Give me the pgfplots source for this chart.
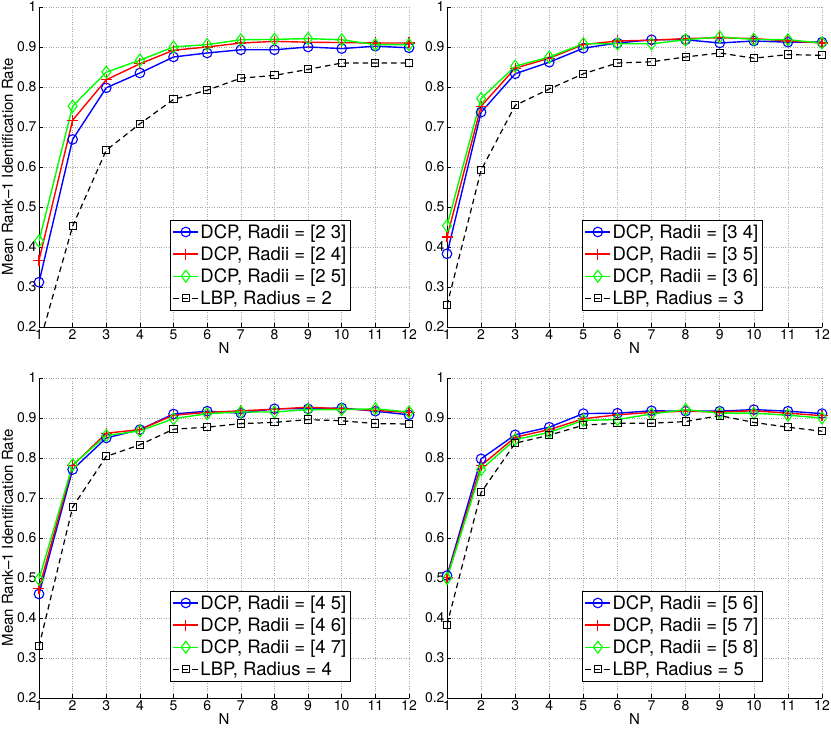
\documentclass[border=0pt]{standalone}
\usepackage{fontspec}
\setmainfont{TeX Gyre Heros}
\usepackage{pgfplots}
\pgfplotsset{compat=1.18}

\definecolor{mblue}{rgb}{0,0,1}
\definecolor{mred}{rgb}{1,0,0}
\definecolor{mgreen}{rgb}{0,1,0}

\pgfplotsset{
  panel/.style={
    scale only axis,
    height=320pt,
    xmin=1, xmax=12, ymin=0.2, ymax=1,
    xtick={1,...,12},
    ytick={0.2,0.3,0.4,0.5,0.6,0.7,0.8,0.9,1},
    yticklabels={0.2,0.3,0.4,0.5,0.6,0.7,0.8,0.9,1},
    axis x line*=bottom, axis y line*=left,
    axis line style={black, line width=0.6pt},
    tick align=inside, major tick length=4pt,
    tick style={black, line width=0.6pt},
    grid=major,
    grid style={dotted, black!35, line width=0.5pt},
    /pgf/number format/assume math mode=true,
    ticklabel style={font=\fontsize{14}{16}\selectfont},
    xticklabel style={yshift=1pt},
    yticklabel style={xshift=1pt},
    xlabel={N},
    xlabel style={font=\fontsize{15}{17}\selectfont, yshift=4pt},
    label style={font=\fontsize{15}{17}\selectfont},
    ylabel style={yshift=-3pt},
    legend style={at={(0.8405,0.052)}, anchor=south east,
      font=\fontsize{18.5}{21}\selectfont, draw=black, fill=white,
      inner xsep=2pt, inner ysep=3pt,
      row sep=3.8pt, nodes={inner sep=1.5pt}},
    legend cell align=left,
    legend image code/.code={
      \draw (0pt,0pt) -- (25pt,0pt);
      \path[draw=none] plot coordinates {(12.5pt,0pt)};},
    every axis plot/.append style={line width=1.4pt},
  },
  sblue/.style={draw=mblue, color=mblue, mark=o, mark size=4.8pt, mark options={solid, draw=mblue, line width=1.1pt}},
  sred/.style={draw=mred, color=mred, mark=+, mark size=5.5pt, mark options={solid, draw=mred, line width=1.1pt}},
  sgreen/.style={draw=mgreen, color=mgreen, mark=diamond, mark size=6pt, mark options={solid, draw=mgreen, line width=1.1pt}},
  sblack/.style={draw=black, color=black, dash pattern=on 5.5pt off 4pt, line width=1.2pt, mark=square, mark size=3.6pt, mark options={solid, draw=black, line width=1pt}},
}

\begin{document}
\begin{tikzpicture}
\useasboundingbox (0,0) rectangle (831pt,730pt);

% top left
\begin{axis}[panel, width=370pt, at={(39pt,403pt)}, anchor=south west,
  ylabel={Mean Rank--1 Identification Rate}]
\addplot[sblue] coordinates {(1,0.312) (2,0.669) (3,0.798) (4,0.835) (5,0.875) (6,0.885) (7,0.893) (8,0.893) (9,0.900) (10,0.896) (11,0.902) (12,0.898)};
\addplot[sred] coordinates {(1,0.367) (2,0.717) (3,0.818) (4,0.858) (5,0.892) (6,0.900) (7,0.910) (8,0.914) (9,0.912) (10,0.911) (11,0.910) (12,0.910)};
\addplot[sgreen] coordinates {(1,0.415) (2,0.752) (3,0.837) (4,0.867) (5,0.900) (6,0.906) (7,0.918) (8,0.919) (9,0.921) (10,0.918) (11,0.906) (12,0.906)};
\addplot[sblack] coordinates {(1,0.155) (2,0.452) (3,0.642) (4,0.708) (5,0.769) (6,0.792) (7,0.822) (8,0.829) (9,0.844) (10,0.860) (11,0.860) (12,0.860)};
\legend{{DCP, Radii = [2 3]},{DCP, Radii = [2 4]},{DCP, Radii = [2 5]},{LBP, Radius = 2}}
\end{axis}

% top right
\begin{axis}[panel, width=375pt, at={(447pt,403pt)}, anchor=south west,
  legend style={at={(0.84,0.052)}}]
\addplot[sblue] coordinates {(1,0.383) (2,0.737) (3,0.833) (4,0.862) (5,0.897) (6,0.910) (7,0.918) (8,0.918) (9,0.910) (10,0.915) (11,0.912) (12,0.912)};
\addplot[sred] coordinates {(1,0.425) (2,0.752) (3,0.847) (4,0.872) (5,0.906) (6,0.915) (7,0.917) (8,0.921) (9,0.923) (10,0.921) (11,0.915) (12,0.910)};
\addplot[sgreen] coordinates {(1,0.453) (2,0.771) (3,0.852) (4,0.875) (5,0.908) (6,0.908) (7,0.908) (8,0.918) (9,0.925) (10,0.919) (11,0.918) (12,0.910)};
\addplot[sblack] coordinates {(1,0.254) (2,0.592) (3,0.754) (4,0.795) (5,0.833) (6,0.860) (7,0.863) (8,0.875) (9,0.885) (10,0.872) (11,0.881) (12,0.879)};
\legend{{DCP, Radii = [3 4]},{DCP, Radii = [3 5]},{DCP, Radii = [3 6]},{LBP, Radius = 3}}
\end{axis}

% bottom left
\begin{axis}[panel, width=370pt, at={(39pt,32pt)}, anchor=south west,
  ylabel={Mean Rank--1 Identification Rate}]
\addplot[sblue] coordinates {(1,0.460) (2,0.771) (3,0.850) (4,0.871) (5,0.910) (6,0.917) (7,0.912) (8,0.923) (9,0.923) (10,0.925) (11,0.917) (12,0.908)};
\addplot[sred] coordinates {(1,0.473) (2,0.781) (3,0.862) (4,0.871) (5,0.907) (6,0.914) (7,0.918) (8,0.922) (9,0.927) (10,0.923) (11,0.919) (12,0.914)};
\addplot[sgreen] coordinates {(1,0.497) (2,0.783) (3,0.856) (4,0.868) (5,0.898) (6,0.911) (7,0.915) (8,0.915) (9,0.921) (10,0.921) (11,0.923) (12,0.915)};
\addplot[sblack] coordinates {(1,0.329) (2,0.677) (3,0.804) (4,0.833) (5,0.872) (6,0.877) (7,0.886) (8,0.889) (9,0.896) (10,0.893) (11,0.886) (12,0.885)};
\legend{{DCP, Radii = [4 5]},{DCP, Radii = [4 6]},{DCP, Radii = [4 7]},{LBP, Radius = 4}}
\end{axis}

% bottom right
\begin{axis}[panel, width=375pt, at={(447pt,32pt)}, anchor=south west,
  legend style={at={(0.84,0.052)}}]
\addplot[sblue] coordinates {(1,0.506) (2,0.798) (3,0.858) (4,0.877) (5,0.911) (6,0.912) (7,0.918) (8,0.917) (9,0.917) (10,0.921) (11,0.917) (12,0.911)};
\addplot[sred] coordinates {(1,0.502) (2,0.781) (3,0.852) (4,0.871) (5,0.898) (6,0.908) (7,0.914) (8,0.917) (9,0.915) (10,0.918) (11,0.912) (12,0.906)};
\addplot[sgreen] coordinates {(1,0.499) (2,0.771) (3,0.846) (4,0.864) (5,0.894) (6,0.896) (7,0.910) (8,0.921) (9,0.912) (10,0.912) (11,0.907) (12,0.900)};
\addplot[sblack] coordinates {(1,0.383) (2,0.714) (3,0.837) (4,0.857) (5,0.882) (6,0.887) (7,0.887) (8,0.891) (9,0.906) (10,0.889) (11,0.877) (12,0.867)};
\legend{{DCP, Radii = [5 6]},{DCP, Radii = [5 7]},{DCP, Radii = [5 8]},{LBP, Radius = 5}}
\end{axis}
\end{tikzpicture}
\end{document}
